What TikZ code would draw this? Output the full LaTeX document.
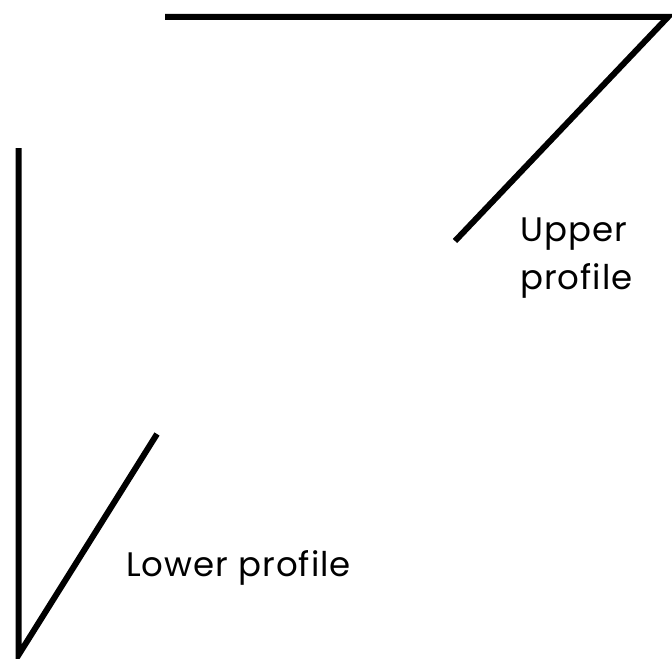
\documentclass[tikz,border=0pt]{standalone}
\usepackage{fontspec}
\setmainfont{Poppins}[LetterSpace=3]
\begin{document}
\begin{tikzpicture}[x=1bp,y=-1bp,
  profile/.style={line width=6bp,line cap=butt,line join=miter},
  lbl/.style={font=\fontsize{34bp}{48bp}\selectfont,anchor=base west,inner sep=0pt,align=left}]
\useasboundingbox (0,0) rectangle (672,659);
% upper profile
\coordinate (u1) at (165,17);
\coordinate (u2) at (668,17);
\coordinate (u3) at (455,241);
\draw[profile] (u1) -- (u2) -- (u3);
% lower profile
\coordinate (l1) at (18.5,148);
\coordinate (l2) at (18.5,655);
\coordinate (l3) at (157,434);
\draw[profile] (l1) -- (l2) -- (l3);
\node[lbl] (ut) at (520,289) {Upper\\profile};
\node[lbl] (lt) at (126,576) {Lower profile};
\end{tikzpicture}
\end{document}
